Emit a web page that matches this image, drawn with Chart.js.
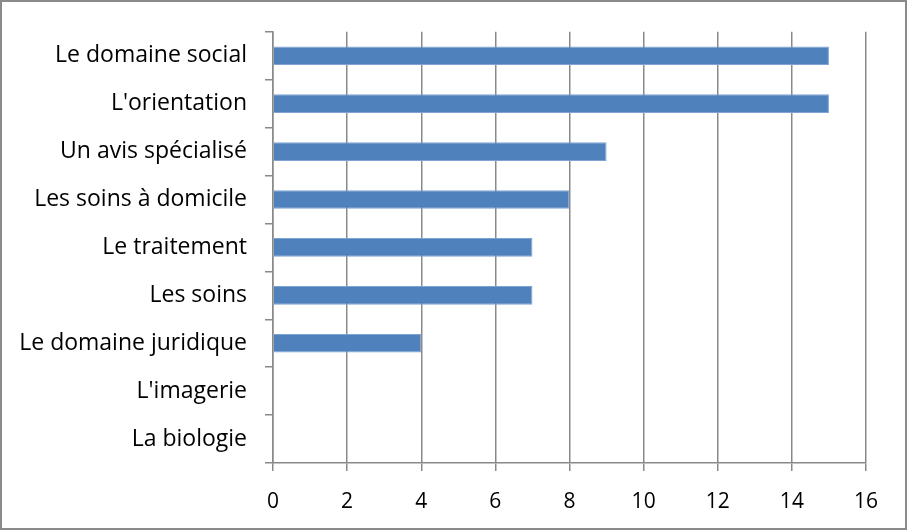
<!DOCTYPE html>
<html>
<head>
<meta charset="utf-8">
<script src="https://cdn.jsdelivr.net/npm/chart.js@4"></script>
<style>
  html, body { margin: 0; padding: 0; background: #fff; }
  #wrap { width: 907px; height: 530px; position: relative; }
</style>
</head>
<body>
<div id="wrap"><canvas id="chart" width="907" height="530"></canvas></div>
<script>
const categories = [
  'Le domaine social',
  "L'orientation",
  'Un avis spécialisé',
  'Les soins à domicile',
  'Le traitement',
  'Les soins',
  'Le domaine juridique',
  "L'imagerie",
  'La biologie'
];
const values = [15, 15, 9, 8, 7, 7, 4, 0, 0];
const xTicks = [0, 2, 4, 6, 8, 10, 12, 14, 16];

const gridColor = '#898989';
const family = '"Open Sans", sans-serif';

// outer frame like the spreadsheet chart border
const frame = {
  id: 'frame',
  afterDraw(chart) {
    const c = chart.ctx;
    c.save();
    c.strokeStyle = '#8a8a8a';
    c.lineWidth = 2;
    c.strokeRect(1, 1, chart.width - 2, chart.height - 2);
    c.restore();
  }
};

new Chart(document.getElementById('chart'), {
  type: 'bar',
  data: {
    labels: categories,
    datasets: [{
      data: values,
      backgroundColor: '#4f81bd',
      borderColor: '#7fa3d3',
      borderWidth: 1,
      barPercentage: 0.78,
      categoryPercentage: 0.5
    }]
  },
  options: {
    indexAxis: 'y',
    responsive: false,
    animation: false,
    layout: { padding: { top: 30, right: 41, left: 0, bottom: 0 } },
    plugins: { legend: { display: false }, tooltip: { enabled: false } },
    scales: {
      x: {
        min: 0,
        max: 16,
        afterBuildTicks(scale) { scale.ticks = xTicks.map(v => ({ value: v })); },
        afterFit(scale) { scale.height = 67; },
        grid: { color: gridColor, lineWidth: 1.5, tickLength: 8, drawTicks: true },
        border: { color: gridColor, width: 1.5 },
        ticks: { color: '#000', font: { family, size: 21 }, padding: 18, maxRotation: 0 }
      },
      y: {
        afterFit(scale) { scale.width = 273; },
        grid: { offset: true, drawOnChartArea: false, color: gridColor, lineWidth: 1.5, tickLength: 8 },
        border: { color: gridColor, width: 1.5 },
        ticks: { color: '#000', font: { family, size: 23 }, padding: 18, autoSkip: false }
      }
    }
  },
  plugins: [frame]
});
</script>
</body>
</html>
